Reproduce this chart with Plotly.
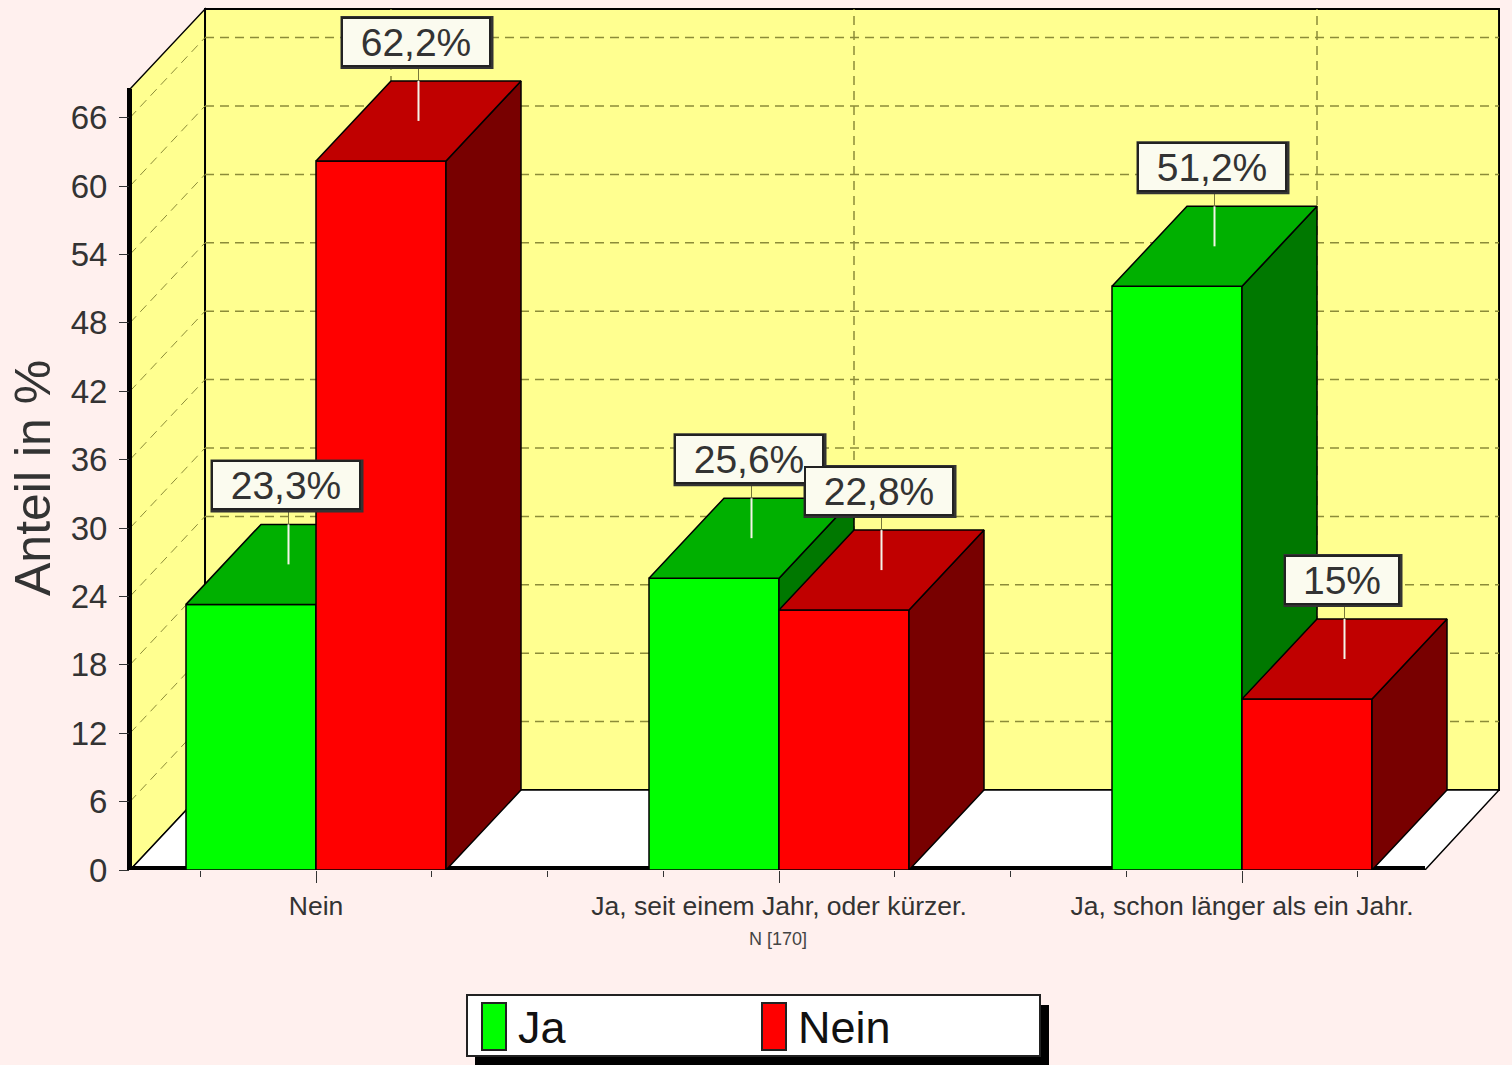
import plotly.graph_objects as go

categories = ["Nein", "Ja, seit einem Jahr, oder kürzer.", "Ja, schon länger als ein Jahr."]
ja_values = [23.3, 25.6, 51.2]
nein_values = [62.2, 22.8, 15.0]
ja_labels = ["23,3%", "25,6%", "51,2%"]
nein_labels = ["62,2%", "22,8%", "15%"]
y_ticks = [0, 6, 12, 18, 24, 30, 36, 42, 48, 54, 60, 66]
footnote = "N [170]"
y_title = "Anteil in %"

W, H = 1512, 1065
L, R, BASE = 130, 1500, 870
CAT_STEP = 463
CAT0 = 316
PX_PER_UNIT = 11.4
BAR_W = 130 / CAT_STEP
DX = 75 / CAT_STEP
DY = 80 / PX_PER_UNIT
XMIN = (L - CAT0) / CAT_STEP
XMAX = (R - CAT0) / CAT_STEP
YMAX = BASE / PX_PER_UNIT
AXIS_TOP = 68.5
positions = list(range(len(categories)))

SANS = "Liberation Sans, Arial, sans-serif"
BG = "#FFF0EE"
WALL = "#FFFF90"
GRID = "#8C8C38"


def px(x):
    return (x - L) / (R - L)


def py(y):
    return (BASE - y) / BASE


def path(points):
    return "M " + " L ".join(f"{a:.4f} {b:.4f}" for a, b in points) + " Z"


shapes = []
# walls and floor
x_front_r = XMAX - DX
shapes.append(dict(type="path", layer="below", xref="x", yref="y", fillcolor=WALL,
                   line=dict(color="black", width=1.5),
                   path=path([(XMIN, 0), (XMIN, AXIS_TOP), (XMIN + DX, AXIS_TOP + DY), (XMIN + DX, DY)])))
shapes.append(dict(type="path", layer="below", xref="x", yref="y", fillcolor=WALL,
                   line=dict(color="black", width=2),
                   path=path([(XMIN + DX, DY), (XMIN + DX, AXIS_TOP + DY), (XMAX - 0.002, AXIS_TOP + DY), (XMAX - 0.002, DY)])))
shapes.append(dict(type="path", layer="below", xref="x", yref="y", fillcolor="white",
                   line=dict(color="black", width=1.5),
                   path=path([(XMIN, 0), (XMIN + DX, DY), (XMAX - 0.002, DY), (x_front_r, 0)])))
# grid on the walls
grid_line = dict(color=GRID, width=1.5, dash="9px,6px")
for t in y_ticks[1:]:
    shapes.append(dict(type="line", layer="below", xref="x", yref="y", line=grid_line,
                       x0=XMIN + DX, x1=XMAX - 0.002, y0=t + DY, y1=t + DY))
    shapes.append(dict(type="line", layer="below", xref="x", yref="y",
                       line=dict(color=GRID, width=1, dash="9px,6px"),
                       x0=XMIN, x1=XMIN + DX, y0=t, y1=t + DY))
for p in positions:
    shapes.append(dict(type="line", layer="below", xref="x", yref="y", line=grid_line,
                       x0=p + DX, x1=p + DX, y0=DY, y1=AXIS_TOP + DY))
# thick axis lines
shapes.append(dict(type="line", layer="below", xref="x", yref="y", line=dict(color="black", width=4),
                   x0=XMIN, x1=x_front_r, y0=2 / PX_PER_UNIT, y1=2 / PX_PER_UNIT))
shapes.append(dict(type="line", layer="below", xref="x", yref="y", line=dict(color="black", width=2),
                   x0=XMIN + 1 / CAT_STEP, x1=XMIN + 1 / CAT_STEP, y0=0, y1=AXIS_TOP))
shapes.append(dict(type="line", layer="below", xref="paper", yref="paper", line=dict(color="black", width=4),
                   x0=px(129), x1=px(129), y0=py(870), y1=py(88)))


def polys(faces):
    xs, ys = [], []
    for face in faces:
        for a, b in face + [face[0]]:
            xs.append(a)
            ys.append(b)
        xs.append(None)
        ys.append(None)
    return xs, ys


def add_series(fig, name, values, x0_off, front, top, side, xa, ya):
    tops, sides = [], []
    for p, v in zip(positions, values):
        a, b = p + x0_off, p + x0_off + BAR_W
        tops.append([(a, v), (b, v), (b + DX, v + DY), (a + DX, v + DY)])
        sides.append([(b, 0), (b, v), (b + DX, v + DY), (b + DX, DY)])
    fig.add_trace(go.Bar(x=positions, y=values, width=BAR_W, offset=x0_off, name=name,
                         marker=dict(color=front, line=dict(color="black", width=1.5)),
                         xaxis=xa, yaxis=ya, showlegend=False, hoverinfo="skip"))
    for faces, col in ((sides, side), (tops, top)):
        xs, ys = polys(faces)
        fig.add_trace(go.Scatter(x=xs, y=ys, mode="lines", fill="toself", fillcolor=col,
                                 line=dict(color="black", width=1.5), xaxis=xa, yaxis=ya,
                                 showlegend=False, hoverinfo="skip"))
    # callout line from the middle of the top face
    lx, ly, dx_, dy_ = [], [], [], []
    for p, v in zip(positions, values):
        c = p + x0_off + BAR_W / 2 + DX / 2
        lx += [c, c, None]
        ly += [v + DY / 2, v + DY, None]
        dx_ += [c, c, None]
        dy_ += [v + DY, v + DY / 2 + 54 / PX_PER_UNIT, None]
    fig.add_trace(go.Scatter(x=dx_, y=dy_, mode="lines", line=dict(color="#77773A", width=1),
                             xaxis=xa, yaxis=ya, showlegend=False, hoverinfo="skip"))
    fig.add_trace(go.Scatter(x=lx, y=ly, mode="lines", line=dict(color="#F4F4E8", width=2),
                             xaxis=xa, yaxis=ya, showlegend=False, hoverinfo="skip"))


fig = go.Figure()
add_series(fig, "Ja", ja_values, -BAR_W, "#00FF00", "#00B000", "#007800", "x", "y")
add_series(fig, "Nein", nein_values, 0.0, "#FF0000", "#C00000", "#780000", "x2", "y2")

annotations = []
for values, labels, off in ((ja_values, ja_labels, -BAR_W), (nein_values, nein_labels, 0.0)):
    for p, v, lab in zip(positions, values, labels):
        cx = p + off + BAR_W / 2 + DX / 2
        cy = v + DY / 2
        box_w = 150 if "," in lab else 116
        shapes.append(dict(type="rect", layer="above", xref="x", yref="y",
                           xsizemode="pixel", ysizemode="pixel", xanchor=cx, yanchor=cy,
                           x0=-box_w / 2 - 3, x1=box_w / 2, y0=52, y1=105,
                           fillcolor="#333333", line=dict(width=0)))
        annotations.append(dict(x=cx, y=cy, xref="x", yref="y", xshift=-3, yshift=79, text=lab, showarrow=False,
                                width=box_w - 4, height=46, align="center", valign="middle",
                                bgcolor="#FBFBEF", bordercolor="#222222", borderwidth=2, borderpad=0,
                                font=dict(family=SANS, size=39, color="#333333")))

annotations.append(dict(x=px(33), y=py(478), xref="paper", yref="paper", xanchor="center", yanchor="middle",
                        text=y_title, showarrow=False, textangle=-90,
                        font=dict(family=SANS, size=50, color="#333333")))
annotations.append(dict(x=px(778), y=py(939), xref="paper", yref="paper", xanchor="center", yanchor="middle",
                        text=footnote, showarrow=False,
                        font=dict(family=SANS, size=18, color="#444444")))

# legend
for (x0, y0, x1, y1, fc, lc) in [(476, 1006, 1048, 1065, "black", "black"),
                                 (467, 995, 1040, 1056, "white", "#222222"),
                                 (482, 1003, 506, 1050, "#00FF00", "#222222"),
                                 (762, 1003, 786, 1050, "#FF0000", "#222222")]:
    shapes.append(dict(type="rect", layer="above", xref="paper", yref="paper",
                       x0=px(x0), x1=px(x1), y0=py(y0), y1=py(y1), fillcolor=fc,
                       line=dict(color=lc, width=2)))
for xp, txt in ((516, "Ja"), (796, "Nein")):
    annotations.append(dict(x=px(xp), y=py(1027), xref="paper", yref="paper", xanchor="left", yanchor="middle",
                            text=txt, showarrow=False, font=dict(family=SANS, size=45, color="#111111")))

minor_vals = [p + s for p in positions for s in (-0.25, 0.25, 0.5)
              if XMIN < p + s < x_front_r]

axis_range_x = [XMIN, XMAX]
axis_range_y = [0, YMAX]
fig.update_layout(
    width=W, height=H, autosize=False,
    margin=dict(l=L, r=W - R, t=0, b=H - BASE, pad=0),
    paper_bgcolor=BG, plot_bgcolor=BG,
    barmode="overlay", showlegend=False,
    shapes=shapes, annotations=annotations,
    xaxis=dict(range=axis_range_x, tickvals=positions, ticktext=categories, ticks="outside", ticklen=12,
               tickcolor="#333333", tickwidth=1, showgrid=False, zeroline=False, showline=False,
               tickfont=dict(family=SANS, size=26.5, color="#333333"), ticklabelstandoff=0,
               minor=dict(tickvals=minor_vals, ticks="outside", ticklen=6, tickcolor="#333333", tickwidth=1,
                          showgrid=False)),
    yaxis=dict(range=axis_range_y, tickvals=y_ticks, ticktext=[str(t) for t in y_ticks], ticks="outside",
               ticklen=10, tickcolor="#333333", tickwidth=1, showgrid=False, zeroline=False, showline=False,
               tickfont=dict(family=SANS, size=33, color="#333333"), ticklabelstandoff=5),
    xaxis2=dict(range=axis_range_x, overlaying="x", anchor="y2", visible=False),
    yaxis2=dict(range=axis_range_y, overlaying="y", anchor="x2", visible=False),
)

fig.write_html("out.html", config={"displayModeBar": False},
               post_script=f"document.body.style.margin='0';document.body.style.background='{BG}';")
